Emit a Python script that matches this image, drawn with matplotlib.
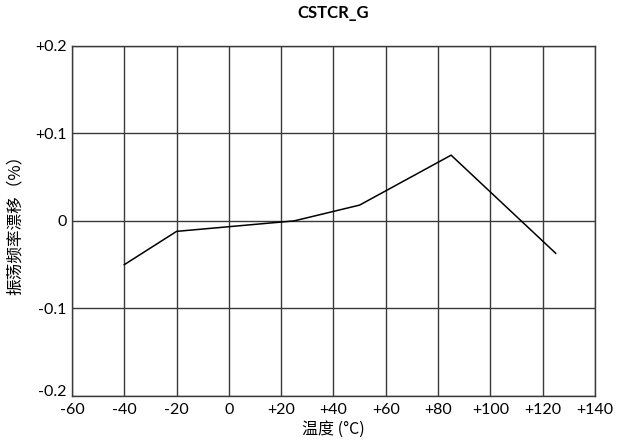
import matplotlib
matplotlib.use("Agg")
import matplotlib.pyplot as plt
from matplotlib.transforms import ScaledTranslation

# data
temps = [-40, -20, 25, 50, 85, 125]
drift = [-0.050, -0.012, 0.0, 0.018, 0.075, -0.037]

xticks = [-60, -40, -20, 0, 20, 40, 60, 80, 100, 120, 140]
xlabels = ["-60", "-40", "-20", "0", "+20", "+40", "+60", "+80", "+100", "+120", "+140"]
yticks = [-0.2, -0.1, 0, 0.1, 0.2]
ylabels = ["-0.2", "-0.1", "0", "+0.1", "+0.2"]

plt.rcParams['font.family'] = ['Lato', 'Noto Sans CJK SC', 'DejaVu Sans']
cjk = ['Noto Sans CJK SC', 'DejaVu Sans']

fig = plt.figure(figsize=(6.3, 4.48), dpi=100)
ax = fig.add_axes([0.1143, 0.116, 0.830, 0.782])

ax.plot(temps, drift, color='black', linewidth=1.1, zorder=3)

ax.set_xlim(-60, 140)
ax.set_ylim(-0.2, 0.2)
ax.set_xticks(xticks)
ax.set_xticklabels(xlabels)
ax.set_yticks(yticks)
ax.set_yticklabels(ylabels)
ax.tick_params(length=0, labelsize=11.5, pad=4)
ax.tick_params(axis='x', pad=5)

# lift the bottom y label a little so it clears "-60"
lab = ax.get_yticklabels()[0]
lab.set_transform(lab.get_transform() + ScaledTranslation(0, 4 / 72, fig.dpi_scale_trans))

ax.grid(True, color='#3a3a3a', linewidth=1.0)
for s in ax.spines.values():
    s.set_color('#3a3a3a')
    s.set_linewidth(1.0)

ax.set_title("CSTCR_G", fontsize=12, fontweight='bold', pad=20)
ax.set_xlabel("温度 (°C)", fontsize=11.5, family=cjk, labelpad=3)
ax.set_ylabel("振荡频率漂移（%）", fontsize=12, family=cjk, labelpad=8)

fig.savefig("out.png", dpi=100)
